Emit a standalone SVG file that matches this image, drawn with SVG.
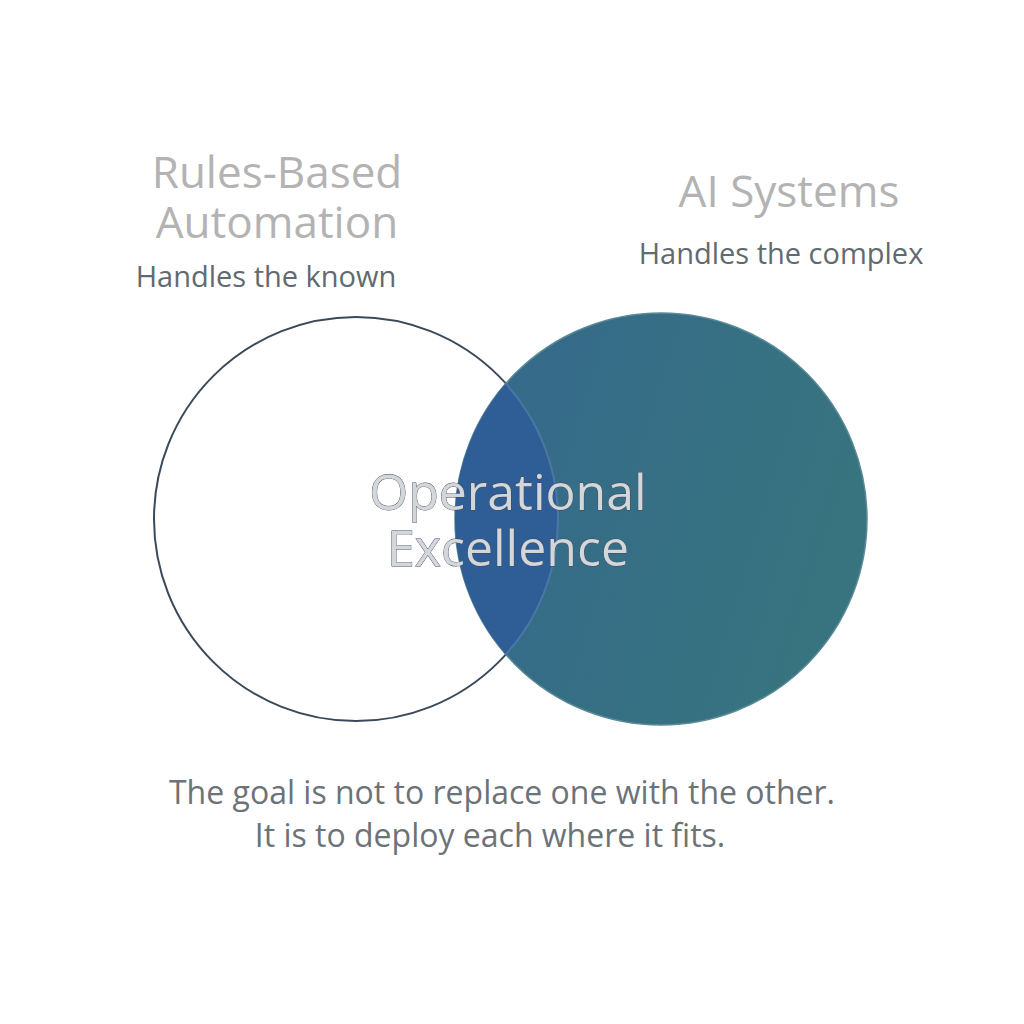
<svg xmlns="http://www.w3.org/2000/svg" width="1024" height="1024" viewBox="0 0 1024 1024">
<style>
.title{font-family:"Open Sans","Liberation Sans",sans-serif;fill:#b3b3b3;font-size:44px;text-anchor:middle}
.sub{font-family:"Open Sans","Liberation Sans",sans-serif;fill:#5f6b70;font-size:29px;text-anchor:middle}
.center{font-family:"Open Sans","Liberation Sans",sans-serif;fill:#d4d6d8;font-size:50px;text-anchor:middle;stroke:#3a4a66;stroke-width:0.8;paint-order:stroke}
.note{font-family:"Open Sans","Liberation Sans",sans-serif;fill:#6b7378;font-size:32px;text-anchor:middle}
</style>
<defs>
<linearGradient id="g" x1="0" y1="0" x2="1" y2="0.3">
<stop offset="0" stop-color="#35688c"/>
<stop offset="1" stop-color="#37747f"/>
</linearGradient>
<clipPath id="rc"><circle cx="661" cy="519" r="206"/></clipPath>
</defs>
<rect width="1024" height="1024" fill="#ffffff"/>
<g id="node-rules">
<circle cx="356" cy="519" r="202" fill="#ffffff" stroke="#3b4a5a" stroke-width="2"/>
<text class="title" x="277" y="188">Rules-Based</text>
<text class="title" x="277" y="238">Automation</text>
<text class="sub" x="266" y="287">Handles the known</text>
</g>
<g id="node-ai">
<circle cx="661" cy="519" r="206" fill="url(#g)" stroke="#5a8a96" stroke-width="1.5"/>
<text class="title" x="789" y="207">AI Systems</text>
<text class="sub" x="781" y="264">Handles the complex</text>
</g>
<g id="node-overlap">
<circle cx="356" cy="519" r="202" fill="#2f5e96" stroke="#4a78a6" stroke-width="2" clip-path="url(#rc)"/>
<text class="center" x="508" y="510">Operational</text>
<text class="center" x="508" y="566">Excellence</text>
</g>
<g id="connectors"/>
<g id="note">
<text class="note" x="502" y="804">The goal is not to replace one with the other.</text>
<text class="note" x="490" y="847">It is to deploy each where it fits.</text>
</g>
</svg>
